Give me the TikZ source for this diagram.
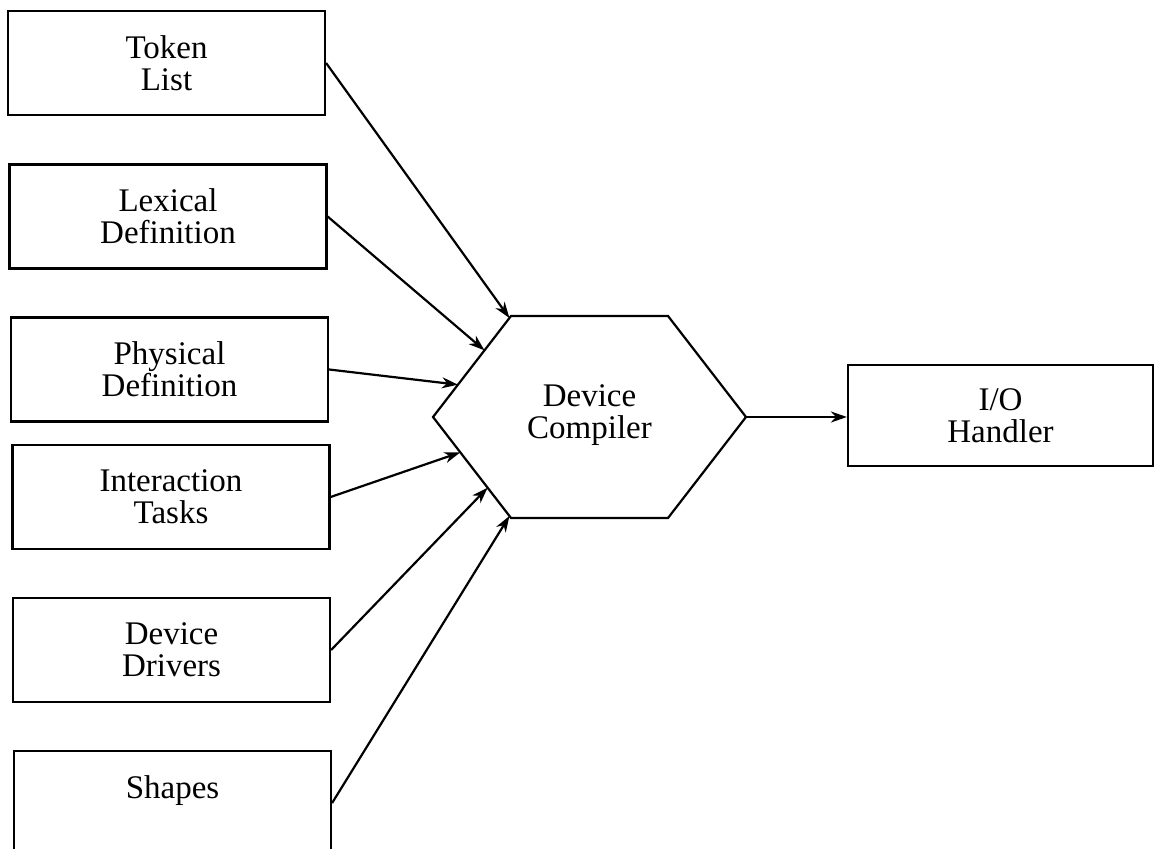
\documentclass[tikz,border=0pt]{standalone}
\usepackage{fontspec}
\setmainfont{Liberation Serif}
\usetikzlibrary{arrows.meta,positioning,calc}

\begin{document}
\begin{tikzpicture}[x=0.5pt,y=-0.5pt,
  srcbox/.style={draw,line width=1.1pt,minimum width=158.5pt,minimum height=52pt,
    inner sep=0pt,align=center,font=\fontsize{16.5}{16}\selectfont},
  feed/.style={line width=1.1pt,-{Stealth[length=8pt,width=5.5pt,inset=2.5pt]}}]
  \useasboundingbox (0,0) rectangle (1159,849);
  % Inputs down the left side
  \node[srcbox] (token) at (166.5,63) {Token\\List};
  \node[srcbox] (lexical) at (168,216.5) {Lexical\\Definition};
  \node[srcbox] (physical) at (169.5,369.5) {Physical\\Definition};
  \node[srcbox] (interact) at (171,497) {Interaction\\Tasks};
  \node[srcbox] (drivers) at (171.5,650) {Device\\Drivers};
  \node[srcbox] (shapes) at (172.5,803) {Shapes\\{}};
  %
  % Compiler hexagon
  \node[font=\fontsize{16.5}{16}\selectfont,align=center] (dc) at (589.5,415) {Device\\Compiler};
  \coordinate (hnw) at (511,316);
  \coordinate (hne) at (668,316);
  \coordinate (he) at (746,417);
  \coordinate (hse) at (668,518);
  \coordinate (hsw) at (511,518);
  \coordinate (hw) at (433,417);
  \draw[line width=1.1pt] (hnw) -- (hne) -- (he) -- (hse) -- (hsw) -- (hw) -- cycle;
  %
  % Output box
  \node[srcbox,minimum width=152.5pt,minimum height=50.5pt] (io) at (1000.5,415.5) {I/O\\Handler};
  %
  % Arrows into the compiler
  \draw[feed] (token.east) -- ($(hnw)!0.02!(hw)$);
  \draw[feed] (lexical.east) -- ($(hnw)!0.34!(hw)$);
  \draw[feed] (physical.east) -- ($(hnw)!0.68!(hw)$);
  \draw[feed] (interact.east) -- ($(hw)!0.35!(hsw)$);
  \draw[feed] (drivers.east) -- ($(hw)!0.70!(hsw)$);
  \draw[feed] (shapes.east) -- ($(hw)!0.98!(hsw)$);
  \draw[feed] (he) -- (io.west |- he);
\end{tikzpicture}
\end{document}
